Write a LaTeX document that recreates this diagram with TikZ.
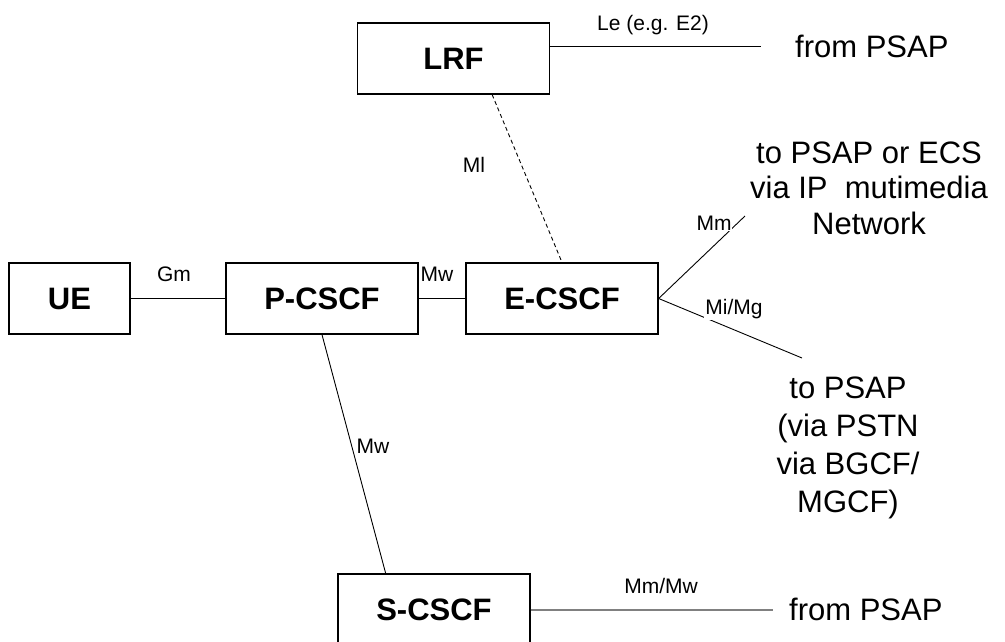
\documentclass[tikz,border=0pt]{standalone}
\usepackage{fontspec}
\setmainfont{Liberation Sans}
\usetikzlibrary{positioning,calc}

\begin{document}
\begin{tikzpicture}[x=1pt,y=-1pt,
        box/.style={draw,line width=1.3pt,minimum width=192pt,minimum height=71pt,inner sep=0pt,font=\fontsize{31}{36}\selectfont\bfseries},
        lbl/.style={inner sep=1pt,font=\fontsize{21}{25}\selectfont},
        far/.style={inner sep=0pt,align=center,font=\fontsize{31}{35.5}\selectfont},
        link/.style={line width=0.9pt}]
    \useasboundingbox (0,0) rectangle (1005,641);

    % network elements
    \node[box] (lrf) at (453.5,58.5) {LRF};
    \node[box,minimum width=121pt] (ue) at (69.5,298.5) {UE};
    \node[box] (pcscf) at (322,298.5) {P-CSCF};
    \node[box] (ecscf) at (562,298.5) {E-CSCF};
    \node[box] (scscf) at (434,609.5) {S-CSCF};

    % open ends of the interfaces
    \coordinate (leend) at (761,46);
    \coordinate (mmend) at (745,216);
    \coordinate (miend) at (802,358);
    \coordinate (scend) at (773,609.5);

    % interfaces
    \draw[link] (ue) -- (pcscf);
    \draw[link] (pcscf) -- (ecscf);
    \draw[link] (lrf.east |- leend) -- (leend);
    \draw[link,dash pattern=on 4pt off 3pt] ($(lrf.south west)!0.7!(lrf.south east)$) -- (ecscf.north);
    \draw[link] (ecscf.east) -- (mmend);
    \draw[link] (ecscf.east) -- (miend);
    \draw[link] (pcscf.south) -- ($(scscf.north west)!0.25!(scscf.north east)$);
    \draw[line width=2pt,gray] (scscf) -- (scend);

    % interface names
    \node[lbl] (le) at (653,25) {Le (e.g. E2)};
    \node[lbl] (gm) at (174,274) {Gm};
    \node[lbl] (mwa) at (437,274.5) {Mw};
    \node[lbl] (ml) at (474,165) {Ml};
    \node[lbl,fill=white] (mm) at (714,223) {Mm};
    \node[lbl,fill=white] (mimg) at (734,309) {Mi/Mg};
    \node[lbl] (mwb) at (373,446.5) {Mw};
    \node[lbl] (mmmw) at (661,586) {Mm/Mw};

    % far ends
    \node[far,right=34pt of leend] (psapa) {from PSAP};
    \node[far] (psapb) at (869,188) {to PSAP or ECS\\via IP~ mutimedia\\Network};
    \node[far,font=\fontsize{31}{38}\selectfont] (psapc) at (848,448) {to PSAP\\(via PSTN\\via BGCF/\\MGCF)};
    \node[far,right=16pt of scend] (psapd) {from PSAP};
\end{tikzpicture}
\end{document}
